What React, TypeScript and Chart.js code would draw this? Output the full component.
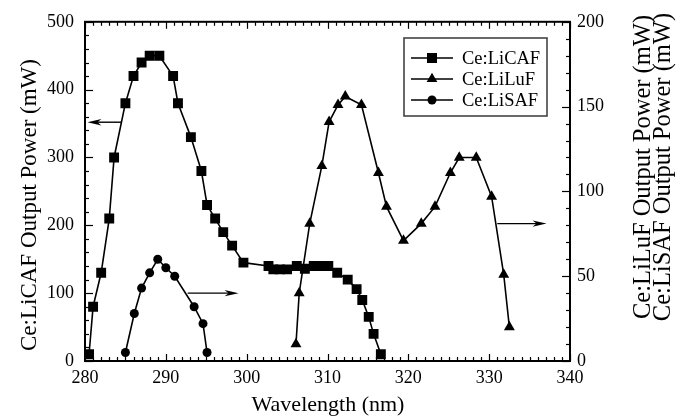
import React, { useEffect, useRef } from "react";
import { Chart, registerables } from "chart.js";
Chart.register(...registerables);

// ---- data ----
const licafX = [280.5, 281, 282, 283, 283.6, 285, 286, 287, 288, 289.2, 290.9, 291.5, 293.1, 294.4, 295.1, 296.1, 297.1, 298.2, 299.6, 302.7, 303.3, 304.1, 305, 306.2, 307.2, 308.3, 309.4, 310.1, 311.2, 312.5, 313.6, 314.3, 315.1, 315.7, 316.6];
const licafY = [10, 80, 130, 210, 300, 380, 420, 440, 450, 450, 420, 380, 330, 280, 230, 210, 190, 170, 145, 140, 135, 135, 135, 140, 136, 140, 140, 140, 130, 120, 106, 90, 65, 40, 10];

const liluX = [306.1, 306.5, 307.8, 309.3, 310.2, 311.3, 312.2, 314.2, 316.3, 317.3, 319.4, 321.6, 323.3, 325.2, 326.3, 328.4, 330.3, 331.8, 332.5];
const liluY = [10, 40, 81, 115, 141, 151, 156, 151, 111, 91, 71, 81, 91, 111, 120, 120, 97, 51, 20];

const lisafX = [285, 286.1, 287, 288, 289, 290, 291.1, 293.5, 294.6, 295.1];
const lisafY = [5, 28, 43, 52, 60, 55, 50, 32, 22, 5];

const seriesNames = ["Ce:LiCAF", "Ce:LiLuF", "Ce:LiSAF"];
const seriesStyles = ["rect", "triangle", "circle"];

const xRange = [280, 340];
const yLeftRange = [0, 500];
const yRightRange = [0, 200];

// arrows: [axisId, fromX, toX, yValue]
const arrowAxis = ["y", "y1", "y1"];
const arrowFromX = [284.5, 292.7, 331.0];
const arrowToX = [280.3, 299.0, 337.1];
const arrowY = [352, 40, 81];

const xTitle = "Wavelength (nm)";
const yLeftTitle = "Ce:LiCAF Output Power (mW)";
const yRightTitles = ["Ce:LiLuF Output Power (mW)", "Ce:LiSAF Output Power (mW)"];

const FONT = "'Liberation Serif', 'Times New Roman', Times, serif";

function pts(xs: number[], ys: number[]) {
  return xs.map((x, i) => ({ x, y: ys[i] }));
}

function drawMarker(ctx: CanvasRenderingContext2D, style: string, x: number, y: number) {
  ctx.beginPath();
  if (style === "rect") {
    ctx.rect(x - 5, y - 5, 10, 10);
  } else if (style === "triangle") {
    const r = 6.2;
    ctx.moveTo(x, y - r);
    ctx.lineTo(x + r * 0.866, y + r * 0.5);
    ctx.lineTo(x - r * 0.866, y + r * 0.5);
    ctx.closePath();
  } else {
    ctx.arc(x, y, 4.5, 0, Math.PI * 2);
  }
  ctx.fill();
}

const decorPlugin = {
  id: "decor",
  afterDraw(chart: any) {
    const { ctx, chartArea } = chart;
    const { left, right, top, bottom } = chartArea;
    const x = chart.scales.x;
    const y = chart.scales.y;
    const y1 = chart.scales.y1;
    ctx.save();
    ctx.strokeStyle = "#000";
    ctx.fillStyle = "#000";
    ctx.lineWidth = 1.2;
    const line = (a: number, b: number, c: number, d: number) => {
      ctx.beginPath();
      ctx.moveTo(a, b);
      ctx.lineTo(c, d);
      ctx.stroke();
    };
    // inward ticks
    for (let v = xRange[0]; v <= xRange[1]; v += 1) {
      const px = Math.round(x.getPixelForValue(v)) + 0.5;
      const len = v % 10 === 0 ? 7 : 4;
      line(px, bottom, px, bottom - len);
      line(px, top, px, top + len);
    }
    for (let v = yLeftRange[0]; v <= yLeftRange[1]; v += 20) {
      const py = Math.round(y.getPixelForValue(v)) + 0.5;
      const len = v % 100 === 0 ? 8 : 4;
      line(left, py, left + len, py);
    }
    for (let v = yRightRange[0]; v <= yRightRange[1]; v += 10) {
      const py = Math.round(y1.getPixelForValue(v)) + 0.5;
      const len = v % 50 === 0 ? 8 : 4;
      line(right, py, right - len, py);
    }
    // frame
    ctx.lineWidth = 2;
    ctx.strokeRect(left, top, right - left, bottom - top);

    // arrows
    ctx.lineWidth = 1.4;
    for (let i = 0; i < arrowFromX.length; i++) {
      const sc = chart.scales[arrowAxis[i]];
      const x0 = x.getPixelForValue(arrowFromX[i]);
      const x1 = x.getPixelForValue(arrowToX[i]);
      const py = sc.getPixelForValue(arrowY[i]);
      const dir = Math.sign(x1 - x0);
      line(x0, py, x1 - dir * 6, py);
      ctx.beginPath();
      ctx.moveTo(x1, py);
      ctx.lineTo(x1 - dir * 14, py - 3.2);
      ctx.lineTo(x1 - dir * 10, py);
      ctx.lineTo(x1 - dir * 14, py + 3.2);
      ctx.closePath();
      ctx.fill();
    }

    // legend
    const bx = 404, by = 38, bw = 143, bh = 78;
    ctx.fillStyle = "#fff";
    ctx.fillRect(bx, by, bw, bh);
    ctx.strokeStyle = "#444";
    ctx.lineWidth = 1.6;
    ctx.strokeRect(bx, by, bw, bh);
    ctx.fillStyle = "#000";
    ctx.strokeStyle = "#000";
    ctx.font = `18.5px ${FONT}`;
    ctx.textAlign = "left";
    ctx.textBaseline = "middle";
    const rows = [58, 79, 100];
    for (let i = 0; i < seriesNames.length; i++) {
      ctx.lineWidth = 1.5;
      line(bx + 7, rows[i], bx + 49, rows[i]);
      drawMarker(ctx, seriesStyles[i], bx + 28, rows[i]);
      ctx.fillText(seriesNames[i], bx + 58, rows[i] + 1);
    }

    // axis titles
    ctx.font = `22px ${FONT}`;
    ctx.textAlign = "center";
    ctx.textBaseline = "alphabetic";
    ctx.fillText(xTitle, 328, 411);

    ctx.save();
    ctx.translate(30, 205);
    ctx.rotate(-Math.PI / 2);
    ctx.textBaseline = "middle";
    ctx.font = `23px ${FONT}`;
    ctx.fillText(yLeftTitle, 0, 0);
    ctx.restore();

    ctx.save();
    ctx.translate(644, 167);
    ctx.rotate(-Math.PI / 2);
    ctx.textBaseline = "middle";
    ctx.font = `24.5px ${FONT}`;
    ctx.fillText(yRightTitles[0], 0, 0);
    ctx.fillText(yRightTitles[1], 0, 20);
    ctx.restore();

    ctx.restore();
  },
};

export default function App() {
  const ref = useRef<HTMLCanvasElement | null>(null);
  useEffect(() => {
    if (!ref.current) return;
    const common = {
      showLine: true,
      borderColor: "#000",
      backgroundColor: "#000",
      pointBackgroundColor: "#000",
      pointBorderColor: "#000",
      borderWidth: 1.6,
      pointBorderWidth: 0,
      tension: 0,
    };
    const chart = new Chart(ref.current, {
      type: "scatter",
      data: {
        datasets: [
          { ...common, label: seriesNames[0], data: pts(licafX, licafY), yAxisID: "y", pointStyle: "rect", pointRadius: 7 },
          { ...common, label: seriesNames[1], data: pts(liluX, liluY), yAxisID: "y1", pointStyle: "triangle", pointRadius: 6.3 },
          { ...common, label: seriesNames[2], data: pts(lisafX, lisafY), yAxisID: "y1", pointStyle: "circle", pointRadius: 4.5 },
        ],
      },
      options: {
        animation: false,
        responsive: false,
        layout: { padding: { top: 18, left: 0, right: 0, bottom: 0 } },
        plugins: { legend: { display: false }, tooltip: { enabled: false } },
        scales: {
          x: {
            type: "linear",
            min: xRange[0],
            max: xRange[1],
            grid: { display: false, drawTicks: false },
            border: { display: false },
            ticks: { stepSize: 10, color: "#000", font: { family: FONT, size: 18 }, padding: 6, maxRotation: 0 },
            afterFit: (s: any) => { s.height = 57; },
          },
          y: {
            type: "linear",
            position: "left",
            min: yLeftRange[0],
            max: yLeftRange[1],
            grid: { display: false, drawTicks: false },
            border: { display: false },
            ticks: { stepSize: 100, color: "#000", font: { family: FONT, size: 18 }, padding: 11 },
            afterFit: (s: any) => { s.width = 85; },
          },
          y1: {
            type: "linear",
            position: "right",
            min: yRightRange[0],
            max: yRightRange[1],
            grid: { display: false, drawTicks: false },
            border: { display: false },
            ticks: { stepSize: 50, color: "#000", font: { family: FONT, size: 18 }, padding: 7 },
            afterFit: (s: any) => { s.width = 106; },
          },
        },
      },
      plugins: [decorPlugin],
    } as any);
    return () => chart.destroy();
  }, []);
  return (
    <div style={{ position: "absolute", left: 0, top: 0, width: 676, height: 418, background: "#fff" }}>
      <canvas ref={ref} width={676} height={418} style={{ display: "block" }} />
    </div>
  );
}
